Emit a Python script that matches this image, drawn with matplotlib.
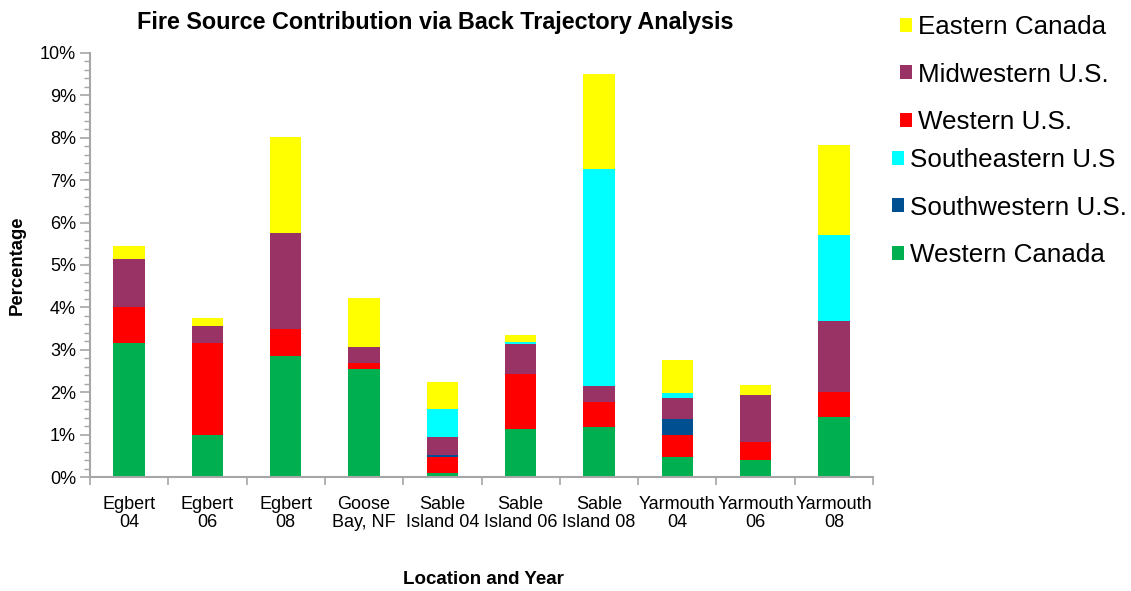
import matplotlib
matplotlib.use("Agg")
import matplotlib.pyplot as plt
import numpy as np
from matplotlib.patches import Patch
from matplotlib.ticker import FuncFormatter, MultipleLocator, FixedLocator

plt.rcParams['font.family'] = ['Liberation Sans', 'DejaVu Sans']

categories = ["Egbert\n04", "Egbert\n06", "Egbert\n08", "Goose\nBay, NF", "Sable\nIsland 04",
              "Sable\nIsland 06", "Sable\nIsland 08", "Yarmouth\n04", "Yarmouth\n06", "Yarmouth\n08"]

# values in percent, stacked bottom -> top
western_canada = [3.15, 0.98, 2.86, 2.55, 0.09, 1.14, 1.17, 0.47, 0.39, 1.42]
western_us     = [0.86, 2.17, 0.62, 0.13, 0.37, 1.28, 0.60, 0.51, 0.43, 0.58]
southwestern_us = [0.00, 0.00, 0.00, 0.00, 0.05, 0.00, 0.00, 0.39, 0.00, 0.00]
midwestern_us  = [1.13, 0.40, 2.28, 0.38, 0.43, 0.72, 0.37, 0.49, 1.12, 1.67]
southeastern_us = [0.00, 0.00, 0.00, 0.00, 0.66, 0.05, 5.12, 0.12, 0.00, 2.03]
eastern_canada = [0.31, 0.21, 2.26, 1.16, 0.64, 0.16, 2.24, 0.78, 0.22, 2.13]

series = [
    ("Western Canada", western_canada, "#00B050"),
    ("Western U.S.", western_us, "#FF0000"),
    ("Southwestern U.S.", southwestern_us, "#004F91"),
    ("Midwestern U.S.", midwestern_us, "#993366"),
    ("Southeastern U.S", southeastern_us, "#00FFFF"),
    ("Eastern Canada", eastern_canada, "#FFFF00"),
]

fig = plt.figure(figsize=(11.31, 5.91), dpi=100)
ax = fig.add_axes([90/1131, 1-477/591, (873-90)/1131, (477-53)/591])

x = np.arange(len(categories))
bottom = np.zeros(len(categories))
for name, vals, col in series:
    v = np.array(vals)
    ax.bar(x, v, width=0.40, bottom=bottom, color=col, edgecolor='none', label=name)
    bottom += v

ax.set_xlim(-0.5, len(categories) - 0.5)
ax.set_ylim(0, 10)
ax.yaxis.set_major_locator(MultipleLocator(1))
ax.yaxis.set_minor_locator(MultipleLocator(0.2))
ax.yaxis.set_major_formatter(FuncFormatter(lambda v, p: f"{v:.0f}%"))
ax.set_xticks(x)
ax.set_xticklabels(categories, fontsize=13, linespacing=1.05)
ax.xaxis.set_minor_locator(FixedLocator(np.arange(-0.5, len(categories), 1.0)))

gray = "#A6A6A6"
for s in ['top', 'right']:
    ax.spines[s].set_visible(False)
for s in ['left', 'bottom']:
    ax.spines[s].set_color(gray)
    ax.spines[s].set_linewidth(1.5)
ax.tick_params(axis='y', which='major', length=7, width=1.2, color=gray, labelsize=13, pad=3)
ax.tick_params(axis='y', which='minor', length=4, width=1.0, color=gray)
ax.tick_params(axis='x', which='major', length=0, pad=14)
ax.tick_params(axis='x', which='minor', length=6, width=1.2, color=gray)

fig.text(435/1131, 1-22/591, "Fire Source Contribution via Back Trajectory Analysis",
         ha='center', va='center', fontsize=16.8, fontweight='bold')
fig.text(17/1131, 1-265/591, "Percentage", rotation=90, ha='center', va='center',
         fontsize=13.3, fontweight='bold')
fig.text(483/1131, 1-580/591, "Location and Year", ha='center', va='center',
         fontsize=13.5, fontweight='bold')

colors = {n: c for n, _, c in series}
group1 = ["Eastern Canada", "Midwestern U.S.", "Western U.S."]
group2 = ["Southeastern U.S", "Southwestern U.S.", "Western Canada"]

def make_legend(names, xpos, ytop):
    handles = [Patch(facecolor=colors[n], edgecolor='none') for n in names]
    return fig.legend(handles, names, loc='upper left', bbox_to_anchor=(xpos, ytop),
                      bbox_transform=fig.transFigure, frameon=False, fontsize=18.7,
                      handlelength=0.45, handleheight=0.45, handletextpad=0.25,
                      labelspacing=0.91, borderpad=0, borderaxespad=0)

make_legend(group1, 900/1131, 1-15/591)
make_legend(group2, 892/1131, 1-148/591)

fig.savefig("out.png", dpi=100)
